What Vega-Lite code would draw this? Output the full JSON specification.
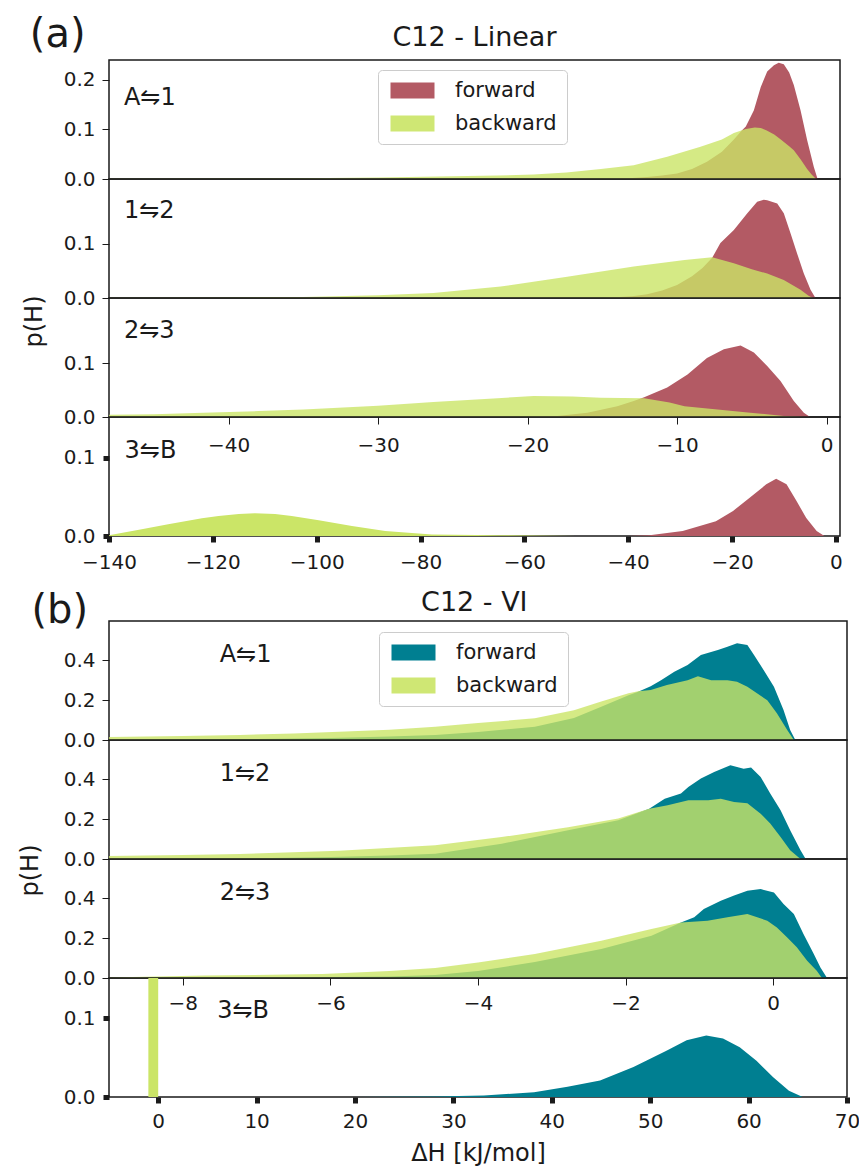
{
  "$schema": "https://vega.github.io/schema/vega-lite/v6.json",
  "background": "white",
  "padding": {"left": 17, "top": 14, "right": 15, "bottom": 5},
  "config": {
    "font": "DejaVu Sans",
    "view": {"stroke": "#1a1a1a", "strokeWidth": 1.5},
    "axis": {"domain": false, "grid": false, "labelFont": "DejaVu Sans", "labelFontSize": 20, "labelColor": "#1a1a1a", "tickColor": "#1a1a1a", "titleFont": "DejaVu Sans", "titleFontWeight": "normal", "titleColor": "#1a1a1a", "titleFontSize": 24, "labelFlush": false, "labelOverlap": false},
    "text": {"font": "DejaVu Sans", "color": "#1a1a1a"}
  },
  "datasets": {
    "a1f": [{"dH":-15,"p":0},{"dH":-13,"p":0.002},{"dH":-12,"p":0.004},{"dH":-11,"p":0.007},{"dH":-10,"p":0.011},{"dH":-9,"p":0.02},{"dH":-8,"p":0.035},{"dH":-7,"p":0.055},{"dH":-6.2,"p":0.08},{"dH":-5.7,"p":0.097},{"dH":-5.4,"p":0.106},{"dH":-4.86,"p":0.139},{"dH":-4.4,"p":0.186},{"dH":-3.97,"p":0.217},{"dH":-3.52,"p":0.23},{"dH":-3.2,"p":0.235},{"dH":-2.86,"p":0.232},{"dH":-2.5,"p":0.215},{"dH":-2.19,"p":0.19},{"dH":-1.74,"p":0.139},{"dH":-1.3,"p":0.079},{"dH":-0.85,"p":0.024},{"dH":-0.6,"p":0}],
    "a1b": [{"dH":-48,"p":0.0005},{"dH":-40,"p":0.001},{"dH":-35,"p":0.0015},{"dH":-30,"p":0.003},{"dH":-26,"p":0.005},{"dH":-22,"p":0.007},{"dH":-19.6,"p":0.009},{"dH":-17.4,"p":0.013},{"dH":-15.1,"p":0.02},{"dH":-12.9,"p":0.028},{"dH":-10.66,"p":0.045},{"dH":-8.43,"p":0.065},{"dH":-7,"p":0.08},{"dH":-6.2,"p":0.093},{"dH":-5.4,"p":0.101},{"dH":-4.8,"p":0.104},{"dH":-4.4,"p":0.103},{"dH":-4,"p":0.098},{"dH":-3.5,"p":0.09},{"dH":-3.06,"p":0.08},{"dH":-2.5,"p":0.066},{"dH":-2.19,"p":0.058},{"dH":-1.74,"p":0.04},{"dH":-1.3,"p":0.02},{"dH":-1,"p":0.009},{"dH":-0.7,"p":0}],
    "a2f": [{"dH":-15,"p":0},{"dH":-13,"p":0.003},{"dH":-12,"p":0.007},{"dH":-11,"p":0.014},{"dH":-10,"p":0.024},{"dH":-9,"p":0.04},{"dH":-8.3,"p":0.055},{"dH":-7.65,"p":0.074},{"dH":-7.1,"p":0.101},{"dH":-6.2,"p":0.125},{"dH":-5.3,"p":0.156},{"dH":-4.64,"p":0.177},{"dH":-4.2,"p":0.181},{"dH":-3.97,"p":0.18},{"dH":-3.3,"p":0.174},{"dH":-2.86,"p":0.156},{"dH":-2.41,"p":0.119},{"dH":-1.97,"p":0.082},{"dH":-1.52,"p":0.045},{"dH":-1.07,"p":0.015},{"dH":-0.74,"p":0}],
    "a2b": [{"dH":-48,"p":0.0003},{"dH":-40,"p":0.001},{"dH":-35,"p":0.002},{"dH":-30,"p":0.005},{"dH":-26.3,"p":0.009},{"dH":-21.8,"p":0.021},{"dH":-17.35,"p":0.039},{"dH":-12.9,"p":0.058},{"dH":-9.5,"p":0.07},{"dH":-7.65,"p":0.075},{"dH":-6.2,"p":0.064},{"dH":-5,"p":0.053},{"dH":-3.97,"p":0.045},{"dH":-2.86,"p":0.033},{"dH":-1.74,"p":0.015},{"dH":-1.2,"p":0.004},{"dH":-0.9,"p":0}],
    "a3f": [{"dH":-20,"p":0},{"dH":-18,"p":0.002},{"dH":-16,"p":0.008},{"dH":-14,"p":0.02},{"dH":-12.9,"p":0.03},{"dH":-12.2,"p":0.037},{"dH":-10.66,"p":0.055},{"dH":-9.3,"p":0.079},{"dH":-8,"p":0.11},{"dH":-6.87,"p":0.126},{"dH":-5.75,"p":0.133},{"dH":-4.86,"p":0.12},{"dH":-3.97,"p":0.095},{"dH":-3.08,"p":0.067},{"dH":-2.19,"p":0.03},{"dH":-1.52,"p":0.008},{"dH":-1.1,"p":0}],
    "a3b": [{"dH":-48,"p":0.004},{"dH":-45,"p":0.005},{"dH":-41.7,"p":0.008},{"dH":-38,"p":0.011},{"dH":-35,"p":0.014},{"dH":-30,"p":0.021},{"dH":-26.3,"p":0.028},{"dH":-22,"p":0.035},{"dH":-19.6,"p":0.039},{"dH":-17,"p":0.038},{"dH":-15.1,"p":0.036},{"dH":-12.2,"p":0.035},{"dH":-10.5,"p":0.027},{"dH":-9.5,"p":0.02},{"dH":-7.3,"p":0.014},{"dH":-5.1,"p":0.008},{"dH":-2.86,"p":0.002},{"dH":-1.5,"p":0}],
    "a4f": [{"dH":-40,"p":0},{"dH":-35.9,"p":0.001},{"dH":-29.5,"p":0.0064},{"dH":-23.1,"p":0.019},{"dH":-19.8,"p":0.032},{"dH":-16.6,"p":0.049},{"dH":-13.4,"p":0.066},{"dH":-11.5,"p":0.073},{"dH":-9.5,"p":0.066},{"dH":-7.6,"p":0.045},{"dH":-5.7,"p":0.023},{"dH":-3.7,"p":0.0064},{"dH":-2.2,"p":0}],
    "a4b": [{"dH":-140,"p":0.001},{"dH":-133.7,"p":0.0085},{"dH":-128.6,"p":0.015},{"dH":-122.1,"p":0.0226},{"dH":-118.9,"p":0.0255},{"dH":-115,"p":0.028},{"dH":-111.9,"p":0.029},{"dH":-108,"p":0.028},{"dH":-104.8,"p":0.0255},{"dH":-99.6,"p":0.02},{"dH":-93.2,"p":0.0128},{"dH":-86.8,"p":0.0064},{"dH":-77.8,"p":0.002},{"dH":-65,"p":0.001},{"dH":-50,"p":0}],
    "b1f": [{"dH":-9,"p":0},{"dH":-8,"p":0.002},{"dH":-7,"p":0.005},{"dH":-6,"p":0.01},{"dH":-5.2,"p":0.018},{"dH":-4.58,"p":0.025},{"dH":-4,"p":0.04},{"dH":-3.23,"p":0.067},{"dH":-2.7,"p":0.11},{"dH":-2.33,"p":0.167},{"dH":-1.96,"p":0.225},{"dH":-1.83,"p":0.243},{"dH":-1.66,"p":0.27},{"dH":-1.52,"p":0.3},{"dH":-1.34,"p":0.343},{"dH":-1.16,"p":0.377},{"dH":-0.98,"p":0.427},{"dH":-0.75,"p":0.452},{"dH":-0.62,"p":0.469},{"dH":-0.49,"p":0.486},{"dH":-0.35,"p":0.477},{"dH":-0.26,"p":0.427},{"dH":-0.13,"p":0.352},{"dH":0.01,"p":0.268},{"dH":0.14,"p":0.151},{"dH":0.23,"p":0.05},{"dH":0.3,"p":0}],
    "b1b": [{"dH":-9,"p":0.015},{"dH":-8,"p":0.02},{"dH":-7.23,"p":0.025},{"dH":-6.5,"p":0.033},{"dH":-5.88,"p":0.042},{"dH":-5.2,"p":0.052},{"dH":-4.58,"p":0.067},{"dH":-4,"p":0.085},{"dH":-3.23,"p":0.109},{"dH":-2.7,"p":0.15},{"dH":-2.33,"p":0.193},{"dH":-1.96,"p":0.235},{"dH":-1.83,"p":0.245},{"dH":-1.66,"p":0.251},{"dH":-1.44,"p":0.276},{"dH":-1.16,"p":0.3},{"dH":-1.02,"p":0.32},{"dH":-0.84,"p":0.3},{"dH":-0.62,"p":0.3},{"dH":-0.49,"p":0.293},{"dH":-0.35,"p":0.268},{"dH":-0.22,"p":0.235},{"dH":-0.08,"p":0.2},{"dH":0.05,"p":0.134},{"dH":0.19,"p":0.05},{"dH":0.28,"p":0}],
    "b2f": [{"dH":-9,"p":0},{"dH":-7,"p":0.004},{"dH":-6,"p":0.01},{"dH":-5.2,"p":0.018},{"dH":-4.58,"p":0.027},{"dH":-3.68,"p":0.077},{"dH":-2.78,"p":0.144},{"dH":-2.1,"p":0.195},{"dH":-1.68,"p":0.253},{"dH":-1.47,"p":0.303},{"dH":-1.25,"p":0.329},{"dH":-1.15,"p":0.362},{"dH":-0.98,"p":0.404},{"dH":-0.8,"p":0.437},{"dH":-0.58,"p":0.471},{"dH":-0.4,"p":0.454},{"dH":-0.3,"p":0.46},{"dH":-0.17,"p":0.412},{"dH":-0.04,"p":0.329},{"dH":0.1,"p":0.245},{"dH":0.23,"p":0.144},{"dH":0.37,"p":0.044},{"dH":0.44,"p":0}],
    "b2b": [{"dH":-9,"p":0.015},{"dH":-8,"p":0.02},{"dH":-7.23,"p":0.025},{"dH":-5.88,"p":0.042},{"dH":-4.58,"p":0.069},{"dH":-3.68,"p":0.11},{"dH":-2.78,"p":0.16},{"dH":-2.1,"p":0.203},{"dH":-1.68,"p":0.253},{"dH":-1.43,"p":0.27},{"dH":-1.15,"p":0.295},{"dH":-0.88,"p":0.295},{"dH":-0.71,"p":0.303},{"dH":-0.53,"p":0.286},{"dH":-0.35,"p":0.28},{"dH":-0.17,"p":0.228},{"dH":-0.04,"p":0.178},{"dH":0.1,"p":0.11},{"dH":0.23,"p":0.044},{"dH":0.37,"p":0}],
    "b3f": [{"dH":-9,"p":0},{"dH":-7,"p":0.002},{"dH":-6,"p":0.005},{"dH":-5.2,"p":0.008},{"dH":-4.58,"p":0.015},{"dH":-4,"p":0.035},{"dH":-3.23,"p":0.08},{"dH":-2.33,"p":0.146},{"dH":-1.65,"p":0.212},{"dH":-1.25,"p":0.279},{"dH":-1.07,"p":0.305},{"dH":-0.94,"p":0.347},{"dH":-0.71,"p":0.388},{"dH":-0.53,"p":0.414},{"dH":-0.35,"p":0.439},{"dH":-0.17,"p":0.447},{"dH":0.01,"p":0.43},{"dH":0.14,"p":0.372},{"dH":0.28,"p":0.322},{"dH":0.41,"p":0.221},{"dH":0.55,"p":0.12},{"dH":0.64,"p":0.053},{"dH":0.73,"p":0}],
    "b3b": [{"dH":-9,"p":0.002},{"dH":-7.7,"p":0.012},{"dH":-6.11,"p":0.02},{"dH":-5.2,"p":0.035},{"dH":-4.58,"p":0.05},{"dH":-4,"p":0.078},{"dH":-3.23,"p":0.12},{"dH":-2.33,"p":0.187},{"dH":-1.65,"p":0.246},{"dH":-1.25,"p":0.279},{"dH":-0.89,"p":0.288},{"dH":-0.62,"p":0.305},{"dH":-0.35,"p":0.322},{"dH":-0.08,"p":0.288},{"dH":0.05,"p":0.254},{"dH":0.19,"p":0.204},{"dH":0.32,"p":0.154},{"dH":0.46,"p":0.087},{"dH":0.59,"p":0.037},{"dH":0.66,"p":0}],
    "b4f": [{"dH":20,"p":0},{"dH":28,"p":0.0005},{"dH":33.1,"p":0.002},{"dH":38.2,"p":0.006},{"dH":41.6,"p":0.013},{"dH":44.9,"p":0.021},{"dH":48.3,"p":0.038},{"dH":51.7,"p":0.059},{"dH":53.7,"p":0.072},{"dH":55.7,"p":0.078},{"dH":57.4,"p":0.074},{"dH":59.1,"p":0.063},{"dH":60.8,"p":0.046},{"dH":62.5,"p":0.025},{"dH":64.1,"p":0.008},{"dH":65.5,"p":0}],
    "b4b": [{"lo":-1,"hi":0,"p":1}]
  },
  "vconcat": [
    {
      "vconcat": [
        {
          "width": 731, "height": 119,
          "layer": [
            {"data": {"name": "a1f"}, "mark": {"type": "area"},
             "encoding": {"x": {"field": "dH", "type": "quantitative", "scale": {"domain": [-48, 0.9], "nice": false, "zero": false}, "axis": null},
                          "y": {"field": "p", "type": "quantitative", "stack": null, "scale": {"domain": [0, 0.2404], "nice": false}, "axis": {"values": [0, 0.1, 0.2], "format": ".1f", "tickSize": 7, "labelPadding": 7, "title": null}},
                          "color": {"datum": "forward", "type": "nominal", "scale": {"domain": ["forward", "backward"], "range": ["#b35a64", "#cfe774"]},
                                    "legend": {"orient": "none", "legendX": 269, "legendY": 10, "title": null, "symbolType": "M-1,-1L4.5,-1L4.5,1L-1,1Z", "symbolSize": 256, "symbolStrokeWidth": 0, "symbolOpacity": 1, "labelFontSize": 21, "labelFont": "DejaVu Sans", "labelColor": "#1a1a1a", "labelOffset": 46, "rowPadding": 11, "padding": 10, "strokeColor": "#cccccc", "fillColor": "white", "cornerRadius": 4}}}},
            {"data": {"name": "a1b"}, "mark": {"type": "area", "opacity": 0.8, "color": "#cbe567"},
             "encoding": {"x": {"field": "dH", "type": "quantitative"}, "y": {"field": "p", "type": "quantitative", "stack": null}}},
            {"data": {"values": [{}]}, "mark": {"type": "text", "text": "A⇋1", "align": "left", "baseline": "alphabetic", "fontSize": 24},
             "encoding": {"x": {"datum": -47}, "y": {"datum": 0.15}}},
            {"data": {"values": [{}]}, "mark": {"type": "text", "text": "(a)", "align": "left", "baseline": "alphabetic", "fontSize": 40},
             "encoding": {"x": {"datum": -53.3}, "y": {"datum": 0.267}}},
            {"data": {"values": [{}]}, "mark": {"type": "text", "text": "C12 - Linear", "align": "center", "baseline": "alphabetic", "fontSize": 27},
             "encoding": {"x": {"datum": -23.55}, "y": {"datum": 0.2687}}}
          ]
        },
        {
          "width": 731, "height": 119,
          "layer": [
            {"data": {"name": "a2f"}, "mark": {"type": "area", "color": "#b35a64"},
             "encoding": {"x": {"field": "dH", "type": "quantitative", "scale": {"domain": [-48, 0.9], "nice": false, "zero": false}, "axis": null},
                          "y": {"field": "p", "type": "quantitative", "stack": null, "scale": {"domain": [0, 0.219], "nice": false}, "axis": {"values": [0, 0.1], "format": ".1f", "tickSize": 7, "labelPadding": 7, "title": null}}}},
            {"data": {"name": "a2b"}, "mark": {"type": "area", "color": "#cbe567", "opacity": 0.8},
             "encoding": {"x": {"field": "dH", "type": "quantitative"}, "y": {"field": "p", "type": "quantitative", "stack": null}}},
            {"data": {"values": [{}]}, "mark": {"type": "text", "text": "1⇋2", "align": "left", "baseline": "alphabetic", "fontSize": 24},
             "encoding": {"x": {"datum": -47}, "y": {"datum": 0.147}}}
          ]
        },
        {
          "width": 731, "height": 119,
          "layer": [
            {"data": {"name": "a3f"}, "mark": {"type": "area", "color": "#b35a64"},
             "encoding": {"x": {"field": "dH", "type": "quantitative", "scale": {"domain": [-48, 0.9], "nice": false, "zero": false}, "axis": {"orient": "bottom", "values": [-40, -30, -20, -10, 0], "format": "d", "tickSize": 7, "labelPadding": 11, "title": null}},
                          "y": {"field": "p", "type": "quantitative", "stack": null, "scale": {"domain": [0, 0.2216], "nice": false}, "axis": {"values": [0, 0.1], "format": ".1f", "tickSize": 7, "labelPadding": 7, "title": "p(H)", "titleX": -63, "titleY": 23}}}},
            {"data": {"name": "a3b"}, "mark": {"type": "area", "color": "#cbe567", "opacity": 0.8},
             "encoding": {"x": {"field": "dH", "type": "quantitative"}, "y": {"field": "p", "type": "quantitative", "stack": null}}},
            {"data": {"values": [{}]}, "mark": {"type": "text", "text": "2⇋3", "align": "left", "baseline": "alphabetic", "fontSize": 24},
             "encoding": {"x": {"datum": -47}, "y": {"datum": 0.147}}}
          ]
        },
        {
          "width": 731, "height": 119,
          "layer": [
            {"data": {"name": "a4f"}, "mark": {"type": "area", "color": "#b35a64"},
             "encoding": {"x": {"field": "dH", "type": "quantitative", "scale": {"domain": [-140, 0.8], "nice": false, "zero": false}, "axis": {"values": [-140, -120, -100, -80, -60, -40, -20, 0], "format": "d", "tickSize": 6, "tickWidth": 5, "labelPadding": 10, "title": null}},
                          "y": {"field": "p", "type": "quantitative", "stack": null, "scale": {"domain": [0, 0.152], "nice": false}, "axis": {"values": [0, 0.1], "format": ".1f", "tickSize": 6, "tickWidth": 5, "labelPadding": 8, "title": null}}}},
            {"data": {"name": "a4b"}, "mark": {"type": "area", "color": "#cbe567"},
             "encoding": {"x": {"field": "dH", "type": "quantitative"}, "y": {"field": "p", "type": "quantitative", "stack": null}}},
            {"data": {"values": [{}]}, "mark": {"type": "text", "text": "3⇋B", "align": "left", "baseline": "alphabetic", "fontSize": 24},
             "encoding": {"x": {"datum": -137}, "y": {"datum": 0.1}}}
          ]
        }
      ],
      "spacing": 0,
      "bounds": "flush",
      "resolve": {"scale": {"x": "independent", "y": "independent"}}
    },
    {
      "vconcat": [
        {
          "width": 738, "height": 119,
          "layer": [
            {"data": {"name": "b1f"}, "mark": {"type": "area"},
             "encoding": {"x": {"field": "dH", "type": "quantitative", "scale": {"domain": [-9, 1], "nice": false, "zero": false}, "axis": null},
                          "y": {"field": "p", "type": "quantitative", "stack": null, "scale": {"domain": [0, 0.598], "nice": false}, "axis": {"values": [0, 0.2, 0.4], "format": ".1f", "tickSize": 7, "labelPadding": 7, "title": null}},
                          "color": {"datum": "forward", "type": "nominal", "scale": {"domain": ["forward", "backward"], "range": ["#007f91", "#cfe774"]},
                                    "legend": {"orient": "none", "legendX": 270, "legendY": 11, "title": null, "symbolType": "M-1,-1L4.5,-1L4.5,1L-1,1Z", "symbolSize": 256, "symbolStrokeWidth": 0, "symbolOpacity": 1, "labelFontSize": 21, "labelFont": "DejaVu Sans", "labelColor": "#1a1a1a", "labelOffset": 46, "rowPadding": 11, "padding": 10, "strokeColor": "#cccccc", "fillColor": "white", "cornerRadius": 4}}}},
            {"data": {"name": "b1b"}, "mark": {"type": "area", "opacity": 0.8, "color": "#cbe567"},
             "encoding": {"x": {"field": "dH", "type": "quantitative"}, "y": {"field": "p", "type": "quantitative", "stack": null}}},
            {"data": {"values": [{}]}, "mark": {"type": "text", "text": "A⇋1", "align": "left", "baseline": "alphabetic", "fontSize": 24},
             "encoding": {"x": {"datum": -7.5}, "y": {"datum": 0.39}}},
            {"data": {"values": [{}]}, "mark": {"type": "text", "text": "(b)", "align": "left", "baseline": "alphabetic", "fontSize": 40},
             "encoding": {"x": {"datum": -10.05}, "y": {"datum": 0.588}}},
            {"data": {"values": [{}]}, "mark": {"type": "text", "text": "C12 - VI", "align": "center", "baseline": "alphabetic", "fontSize": 27},
             "encoding": {"x": {"datum": -4.05}, "y": {"datum": 0.648}}}
          ]
        },
        {
          "width": 738, "height": 119,
          "layer": [
            {"data": {"name": "b2f"}, "mark": {"type": "area", "color": "#007f91"},
             "encoding": {"x": {"field": "dH", "type": "quantitative", "scale": {"domain": [-9, 1], "nice": false, "zero": false}, "axis": null},
                          "y": {"field": "p", "type": "quantitative", "stack": null, "scale": {"domain": [0, 0.598], "nice": false}, "axis": {"values": [0, 0.2, 0.4], "format": ".1f", "tickSize": 7, "labelPadding": 7, "title": null}}}},
            {"data": {"name": "b2b"}, "mark": {"type": "area", "color": "#cbe567", "opacity": 0.8},
             "encoding": {"x": {"field": "dH", "type": "quantitative"}, "y": {"field": "p", "type": "quantitative", "stack": null}}},
            {"data": {"values": [{}]}, "mark": {"type": "text", "text": "1⇋2", "align": "left", "baseline": "alphabetic", "fontSize": 24},
             "encoding": {"x": {"datum": -7.5}, "y": {"datum": 0.39}}}
          ]
        },
        {
          "width": 738, "height": 119,
          "layer": [
            {"data": {"name": "b3f"}, "mark": {"type": "area", "color": "#007f91"},
             "encoding": {"x": {"field": "dH", "type": "quantitative", "scale": {"domain": [-9, 1], "nice": false, "zero": false}, "axis": {"orient": "bottom", "values": [-8, -6, -4, -2, 0], "format": "d", "tickSize": 7, "labelPadding": 8, "title": null}},
                          "y": {"field": "p", "type": "quantitative", "stack": null, "scale": {"domain": [0, 0.598], "nice": false}, "axis": {"values": [0, 0.2, 0.4], "format": ".1f", "tickSize": 7, "labelPadding": 7, "title": "p(H)", "titleX": -67, "titleY": 11}}}},
            {"data": {"name": "b3b"}, "mark": {"type": "area", "color": "#cbe567", "opacity": 0.8},
             "encoding": {"x": {"field": "dH", "type": "quantitative"}, "y": {"field": "p", "type": "quantitative", "stack": null}}},
            {"data": {"values": [{}]}, "mark": {"type": "text", "text": "2⇋3", "align": "left", "baseline": "alphabetic", "fontSize": 24},
             "encoding": {"x": {"datum": -7.5}, "y": {"datum": 0.39}}}
          ]
        },
        {
          "width": 738, "height": 119,
          "layer": [
            {"data": {"name": "b4f"}, "mark": {"type": "area", "color": "#007f91"},
             "encoding": {"x": {"field": "dH", "type": "quantitative", "scale": {"domain": [-5, 70], "nice": false, "zero": false}, "axis": {"values": [0, 10, 20, 30, 40, 50, 60, 70], "format": "d", "tickSize": 6, "tickWidth": 5, "labelPadding": 8, "title": "ΔH [kJ/mol]", "titlePadding": 10}},
                          "y": {"field": "p", "type": "quantitative", "stack": null, "scale": {"domain": [0, 0.1508], "nice": false}, "axis": {"values": [0, 0.1], "format": ".1f", "tickSize": 6, "tickWidth": 5, "labelPadding": 8, "title": null}}}},
            {"data": {"name": "b4b"}, "mark": {"type": "rect", "color": "#cbe567", "clip": true},
             "encoding": {"x": {"field": "lo", "type": "quantitative"}, "x2": {"field": "hi"}, "y": {"field": "p", "type": "quantitative"}, "y2": {"datum": 0}}},
            {"data": {"values": [{}]}, "mark": {"type": "text", "text": "3⇋B", "align": "left", "baseline": "alphabetic", "fontSize": 24},
             "encoding": {"x": {"datum": 6}, "y": {"datum": 0.1}}}
          ]
        }
      ],
      "spacing": 0,
      "bounds": "flush",
      "resolve": {"scale": {"x": "independent", "y": "independent"}}
    }
  ],
  "spacing": 15,
  "resolve": {"scale": {"x": "independent", "y": "independent", "color": "independent"}, "legend": {"color": "independent"}}
}
